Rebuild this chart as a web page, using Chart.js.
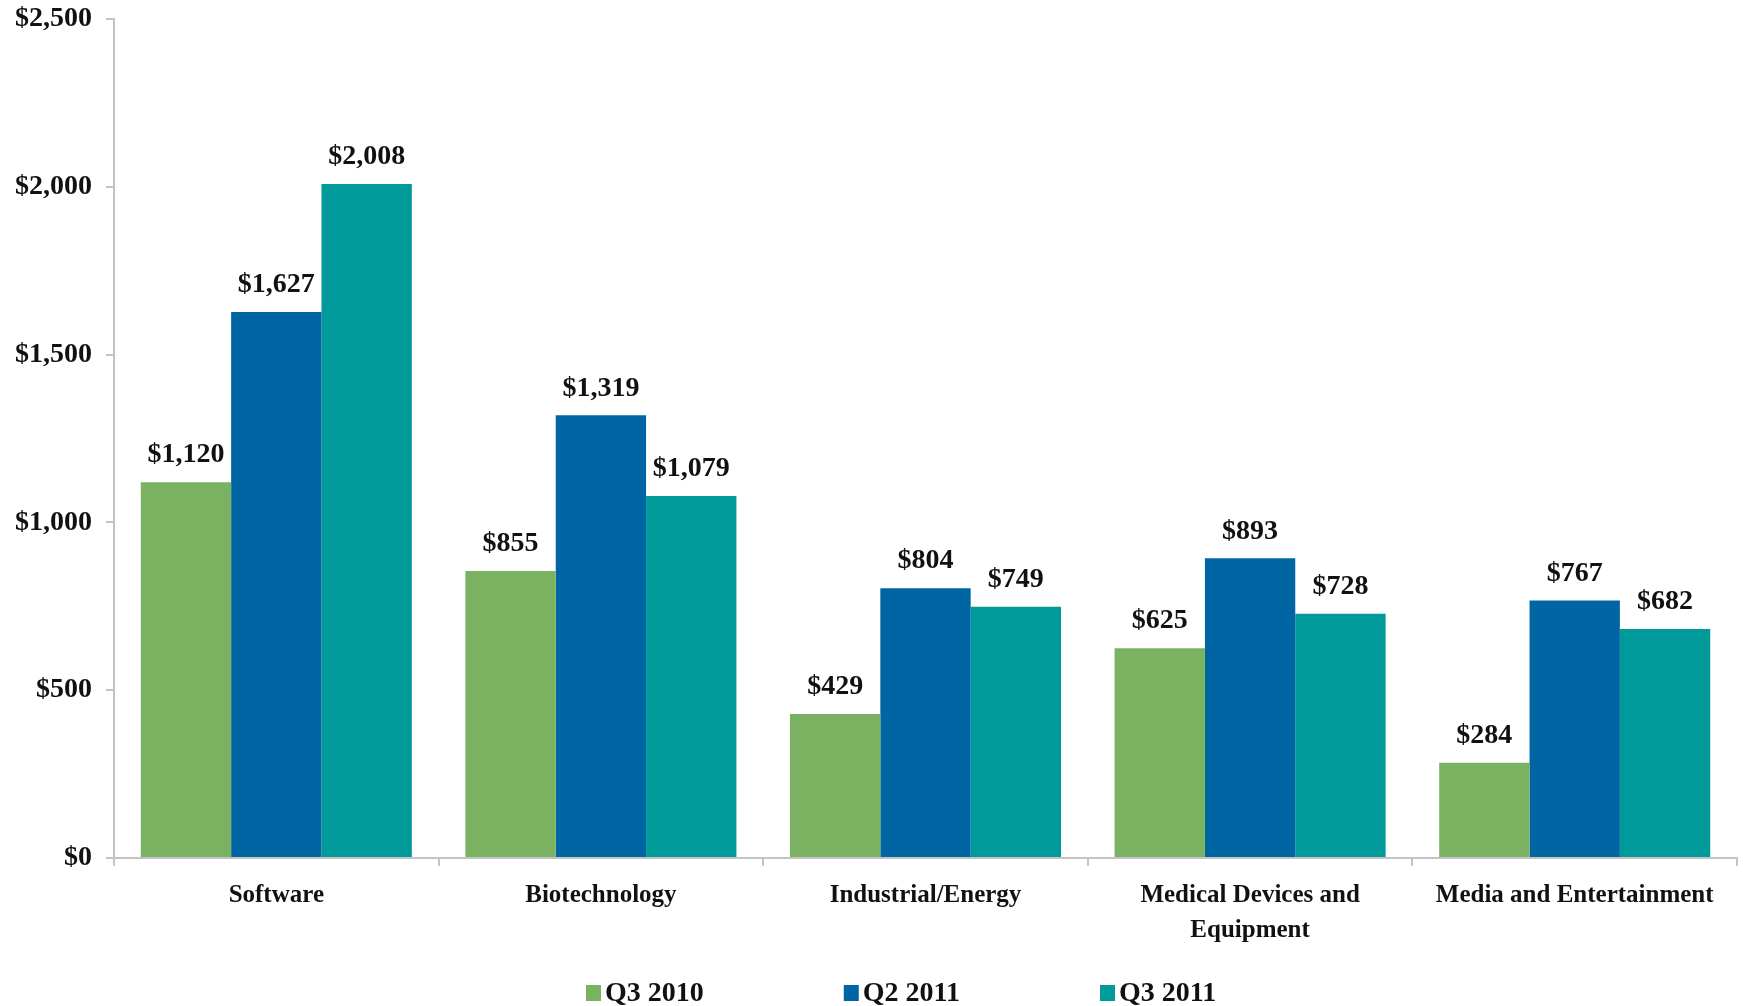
<!DOCTYPE html>
<html>
<head>
<meta charset="utf-8">
<script src="https://cdn.jsdelivr.net/npm/chart.js@4/dist/chart.umd.min.js"></script>
<style>
  html, body { margin: 0; padding: 0; background: #fff; }
  #wrap { width: 1743px; height: 1006px; position: relative; }
</style>
</head>
<body>
<div id="wrap"><canvas id="chart"></canvas></div>
<script>
// values (millions of $)
const categories = ['Software', 'Biotechnology', 'Industrial/Energy', ['Medical Devices and', 'Equipment'], 'Media and Entertainment'];
const seriesNames = ['Q3 2010', 'Q2 2011', 'Q3 2011'];
const q3_2010 = [1120, 855, 429, 625, 284];
const q2_2011 = [1627, 1319, 804, 893, 767];
const q3_2011 = [2008, 1079, 749, 728, 682];
const yTicks = [0, 500, 1000, 1500, 2000, 2500];
const colors = ['#7bb261', '#0066a3', '#009a9a'];

const FONT = '"Liberation Serif", "Times New Roman", serif';
const money = v => '$' + Number(v).toLocaleString('en-US');

// value labels above each bar
const valueLabels = {
  id: 'valueLabels',
  afterDatasetsDraw(chart) {
    const ctx = chart.ctx;
    ctx.save();
    ctx.font = 'bold 28px ' + FONT;
    ctx.fillStyle = '#111';
    ctx.textAlign = 'center';
    ctx.textBaseline = 'middle';
    chart.data.datasets.forEach((ds, i) => {
      chart.getDatasetMeta(i).data.forEach((bar, j) => {
        ctx.fillText(money(ds.data[j]), bar.x, bar.y - 27);
      });
    });
    ctx.restore();
  }
};

// legend along the bottom, spaced like the original
const bottomLegend = {
  id: 'bottomLegend',
  afterDraw(chart) {
    const ctx = chart.ctx;
    ctx.save();
    ctx.font = 'bold 28px ' + FONT;
    ctx.textBaseline = 'middle';
    ctx.textAlign = 'left';
    let x = 586;
    const y = 993;
    chart.data.datasets.forEach(ds => {
      ctx.fillStyle = ds.backgroundColor;
      ctx.fillRect(x, y - 8, 15, 16);
      ctx.fillStyle = '#111';
      ctx.fillText(ds.label, x + 19, y + 1);
      x += 19 + ctx.measureText(ds.label).width + 140;
    });
    ctx.restore();
  }
};

const seriesData = [q3_2010, q2_2011, q3_2011];

new Chart(document.getElementById('chart'), {
  type: 'bar',
  data: {
    labels: categories,
    datasets: seriesNames.map((name, i) => ({
      label: name,
      data: seriesData[i],
      backgroundColor: colors[i],
      borderWidth: 0,
      categoryPercentage: 0.835,
      barPercentage: 1.0,
    })),
  },
  options: {
    responsive: true,
    maintainAspectRatio: false,
    animation: false,
    layout: { padding: { top: 19, right: 6, bottom: 45, left: 0 } },
    plugins: {
      legend: { display: false },
      tooltip: { enabled: false },
    },
    scales: {
      x: {
        afterFit: s => { s.height = 103; },
        grid: { offset: true, drawOnChartArea: false, tickLength: 8, color: '#c4c4c4', lineWidth: 2 },
        border: { color: '#c4c4c4', width: 2 },
        ticks: {
          color: '#111',
          padding: 12,
          maxRotation: 0,
          autoSkip: false,
          font: { family: FONT, size: 25, weight: 'bold', lineHeight: 1.4 },
        },
      },
      y: {
        min: 0,
        max: 2500,
        afterFit: s => { s.width = 114; s.paddingTop = 0; s.paddingBottom = 0; },
        afterBuildTicks: s => { s.ticks = yTicks.map(v => ({ value: v })); },
        grid: { drawOnChartArea: false, tickLength: 8, color: '#c4c4c4', lineWidth: 2 },
        border: { color: '#c4c4c4', width: 2 },
        ticks: {
          color: '#111',
          padding: 14,
          font: { family: FONT, size: 28, weight: 'bold' },
          callback: v => money(v),
        },
      },
    },
  },
  plugins: [valueLabels, bottomLegend],
});
</script>
</body>
</html>
